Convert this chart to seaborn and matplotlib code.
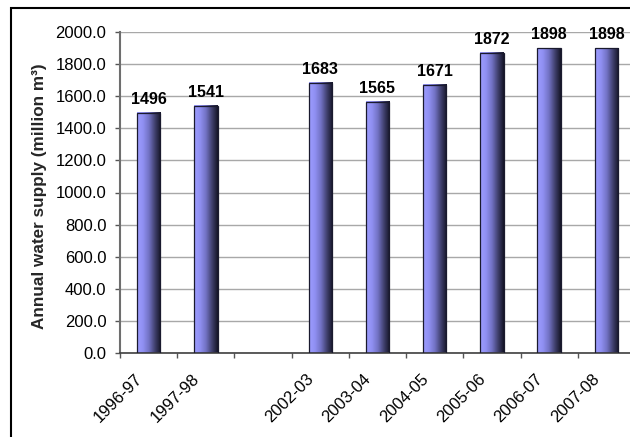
import numpy as np
import pandas as pd
import matplotlib
matplotlib.use("Agg")
import matplotlib.pyplot as plt
import seaborn as sns

from matplotlib.colors import LinearSegmentedColormap
from matplotlib.patches import Rectangle
from matplotlib.transforms import ScaledTranslation

# ------------------------------------------------
# DATA
# ------------------------------------------------

years = ["1996-97", "1997-98", "2002-03", "2003-04",
         "2004-05", "2005-06", "2006-07", "2007-08"]
supply = [1496, 1541, 1683, 1565, 1671, 1872, 1898, 1898]

# category axis keeps one empty slot between 1997-98 and 2002-03
slots = ["1996-97", "1997-98", " ", "2002-03", "2003-04",
         "2004-05", "2005-06", "2006-07", "2007-08"]

yticks = np.arange(0, 2001, 200)

# ------------------------------------------------
# STYLE
# ------------------------------------------------

sns.set_theme(style="white")
plt.rcParams["font.family"] = ["Liberation Sans", "DejaVu Sans"]

df = pd.DataFrame({"year": years, "supply": supply})

fig = plt.figure(figsize=(6.3, 4.37), dpi=100)
ax = fig.add_axes([120 / 630, 84 / 437, 515 / 630, 321 / 437])

sns.barplot(data=df, x="year", y="supply", order=slots, width=0.41,
            color="#9999ff", edgecolor="#1a1a2e", linewidth=0.9,
            errorbar=None, ax=ax, zorder=3)

# horizontal shading on each bar (light left -> dark right)
shade = LinearSegmentedColormap.from_list(
    "shade", ["#9c9cff", "#9090f2", "#7272c4", "#40406e", "#141426"])
grad = np.linspace(0, 1, 256).reshape(1, -1)

for bar in list(ax.patches):
    x0, y0 = bar.get_x(), bar.get_y()
    w, h = bar.get_width(), bar.get_height()
    ax.imshow(grad, cmap=shade, extent=[x0, x0 + w, y0, y0 + h],
              aspect="auto", origin="lower", zorder=2.5, interpolation="bilinear")
    bar.set_facecolor("none")

ax.set_xlim(-0.5, len(slots) - 0.5)
ax.set_ylim(0, 2000)

# value labels
for yr, v in zip(years, supply):
    ax.annotate(f"{v}", (slots.index(yr), v), xytext=(0, 6.5),
                textcoords="offset points", ha="center", va="baseline",
                fontsize=11.5, fontweight="bold", color="black")

# ------------------------------------------------
# AXES
# ------------------------------------------------

ax.set_yticks(yticks)
ax.set_yticklabels([f"{t:.1f}" for t in yticks])
ax.tick_params(axis="y", left=True, direction="out", length=3.8, width=1,
               color="#555555", pad=6, labelsize=12, labelcolor="black")

ax.set_xticks(np.arange(-0.5, len(slots), 1.0))
ax.set_xticklabels([])
ax.tick_params(axis="x", which="major", bottom=True, direction="out",
               length=3.8, width=1, color="#555555")

ax.set_xticks(range(len(slots)), labels=slots, minor=True)
ax.tick_params(axis="x", which="minor", bottom=True, length=0, pad=17,
               labelsize=12, labelcolor="black")

shift = ScaledTranslation(-9 / 100, 0, fig.dpi_scale_trans)
for label in ax.get_xticklabels(minor=True):
    label.set_rotation(45)
    label.set_ha("right")
    label.set_va("center")
    label.set_rotation_mode("anchor")
    label.set_transform(label.get_transform() + shift)

ax.set_xlabel("")
ax.set_ylabel("Annual water supply (million m³)", fontsize=12.3,
              fontweight="bold", va="center")
ax.yaxis.set_label_coords(-0.157, 0.4875)

ax.yaxis.grid(True, color="#a8a8a8", linewidth=1)
ax.set_axisbelow(True)

for side in ["top", "right"]:
    ax.spines[side].set_visible(False)
ax.spines["left"].set_color("#6e6e6e")
ax.spines["left"].set_linewidth(1.5)
ax.spines["bottom"].set_color("#404040")
ax.spines["bottom"].set_linewidth(1.2)

# outer chart-area border (continues past the right and bottom edges)
fig.add_artist(Rectangle((11 / 630, -0.1), 1.2, (437 - 8) / 437 + 0.1,
                         transform=fig.transFigure, fill=False,
                         edgecolor="black", linewidth=1.5))

fig.savefig("out.png", dpi=100)
